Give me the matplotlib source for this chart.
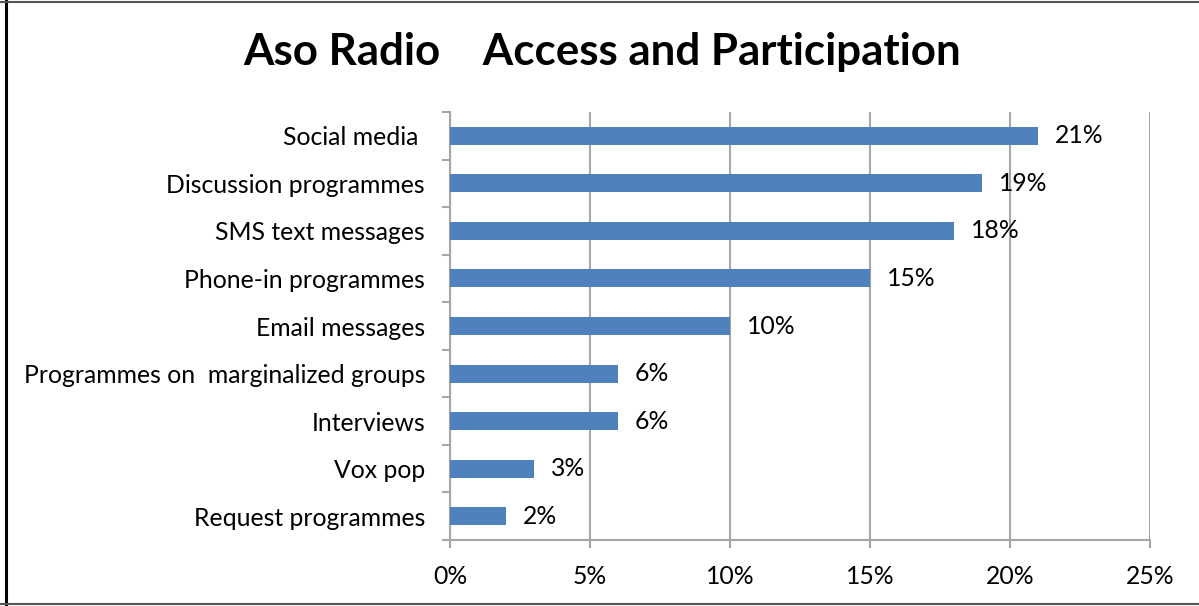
import numpy as np
import matplotlib.pyplot as plt
from matplotlib.ticker import FixedLocator
from matplotlib.lines import Line2D

plt.rcParams['font.family'] = ['Lato', 'DejaVu Sans']

categories = ["Social media ", "Discussion programmes", "SMS text messages",
              "Phone-in programmes", "Email messages",
              "Programmes on  marginalized groups", "Interviews", "Vox pop",
              "Request programmes"]
values = [21, 19, 18, 15, 10, 6, 6, 3, 2]
xticks = [0, 5, 10, 15, 20, 25]

fig = plt.figure(figsize=(11.99, 6.06), dpi=100)
ax = fig.add_axes([450 / 1199, 1 - 540 / 606, 700 / 1199, 428 / 606])

n = len(categories)
y = np.arange(n)[::-1]
bar_col = '#4F81BD'
grid_col = '#A6A6A6'
fs = 17.8

ax.set_axisbelow(True)
ax.barh(y, values, height=0.38, color=bar_col, zorder=3)
for yi, v in zip(y, values):
    ax.text(v + 0.6, yi, f"{v}%", va='center', ha='left', fontsize=fs, color='black')

ax.set_xlim(0, 25)
ax.set_ylim(-0.5, n - 0.5)
ax.set_xticks(xticks)
ax.set_xticklabels([f"{t}%" for t in xticks], fontsize=fs)
ax.xaxis.grid(True, color=grid_col, linewidth=1.5)
ax.set_yticks(y)
ax.set_yticklabels(categories, fontsize=fs)
ax.tick_params(axis='y', which='major', length=0, pad=18)
ax.yaxis.set_minor_locator(FixedLocator(np.arange(-0.5, n, 1.0)))
ax.tick_params(axis='y', which='minor', length=5.5, width=1.5, color=grid_col)
ax.tick_params(axis='x', length=5.5, width=1.5, color=grid_col, pad=12.5)

for s in ['top', 'right']:
    ax.spines[s].set_visible(False)
for s in ['left', 'bottom']:
    ax.spines[s].set_color(grid_col)
    ax.spines[s].set_linewidth(1.5)

fig.text(602 / 1199, 1 - 52 / 606, "Aso Radio    Access and Participation",
         ha='center', va='center', fontsize=31.6, fontweight='bold')

# outer frame
fig.add_artist(Line2D([5.5 / 1199, 5.5 / 1199], [0, 1], color='black', linewidth=2.2,
                      transform=fig.transFigure))
fig.add_artist(Line2D([0, 1], [1 - 1.5 / 606, 1 - 1.5 / 606], color='#555555', linewidth=1.5,
                      transform=fig.transFigure))
fig.add_artist(Line2D([0, 1], [1 - 604 / 606, 1 - 604 / 606], color='#555555', linewidth=1.5,
                      transform=fig.transFigure))

fig.savefig('out.png', dpi=100)
